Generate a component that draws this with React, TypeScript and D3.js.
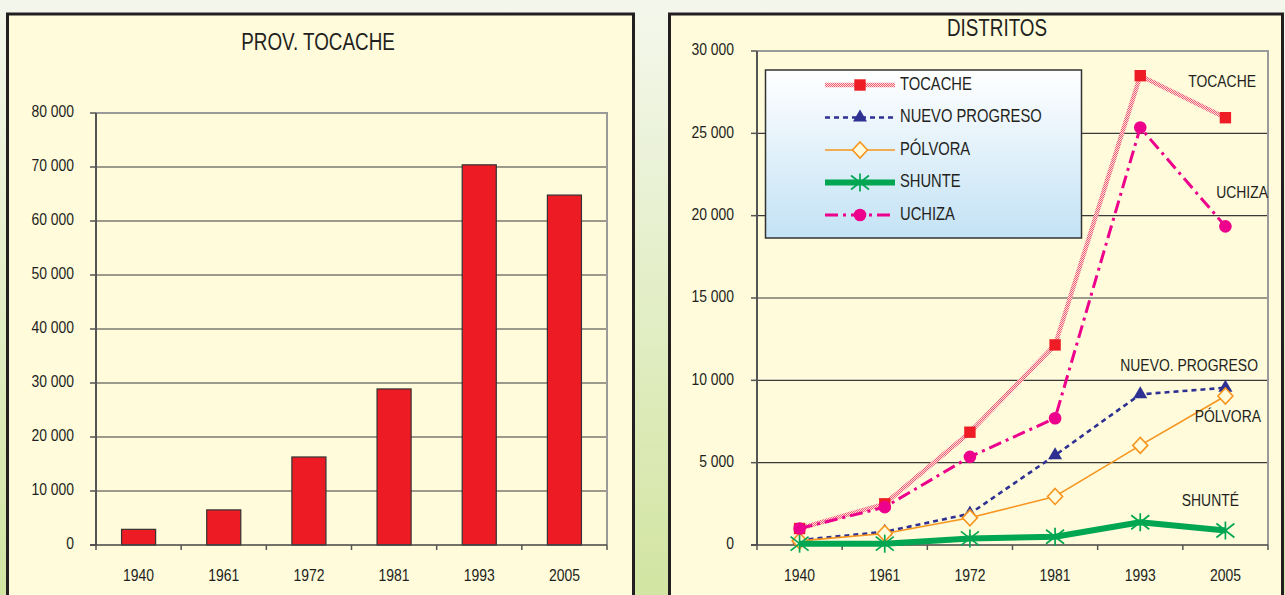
import React from 'react';
import * as d3 from 'd3';

// census years and population figures
const years = ['1940', '1961', '1972', '1981', '1993', '2005'];
const provTocache = [2900, 6500, 16300, 28900, 70400, 64800];
const tocache = [1000, 2500, 6850, 12150, 28500, 25950];
const nuevoProgreso = [300, 800, 1900, 5450, 9150, 9550];
const polvora = [250, 700, 1650, 2950, 6050, 9050];
const shunte = [80, 80, 400, 500, 1380, 880];
const uchiza = [1000, 2300, 5350, 7700, 25350, 19350];
const leftTicks = [0, 10000, 20000, 30000, 40000, 50000, 60000, 70000, 80000];
const rightTicks = [0, 5000, 10000, 15000, 20000, 25000, 30000];

const FONT = "'Liberation Sans', Arial, sans-serif";
const INK = '#231F20';
const PANEL = '#FFFBDB';
const NARROW = 0.82;

const fmt = (v: number) => d3.format(',')(v).replace(/,/g, ' ');

// condensed text: no narrow font installed, so squeeze horizontally
const T = ({ x, y, size, anchor = 'start', children }: { x: number; y: number; size: number; anchor?: string; children: React.ReactNode }) => (
  <text transform={`translate(${x},${y}) scale(${NARROW},1)`} textAnchor={anchor} dominantBaseline="middle"
    fontSize={size} fill={INK}>{children}</text>
);

type Series = { name: string; label: string; values: number[]; color: string; width: number; dash?: string; stroke?: string; marker: string };

const series: Series[] = [
  { name: 'TOCACHE', label: 'TOCACHE', values: tocache, color: '#EE1C25', stroke: 'url(#hatch)', width: 4.5, marker: 'square' },
  { name: 'NUEVO PROGRESO', label: 'NUEVO. PROGRESO', values: nuevoProgreso, color: '#2E3192', width: 2.6, dash: '5 4', marker: 'triangle' },
  { name: 'PÓLVORA', label: 'PÓLVORA', values: polvora, color: '#F7941D', width: 1.6, marker: 'diamond' },
  { name: 'SHUNTE', label: 'SHUNTÉ', values: shunte, color: '#00A651', width: 6, marker: 'star' },
  { name: 'UCHIZA', label: 'UCHIZA', values: uchiza, color: '#EC008C', width: 3, dash: '13 5 3 5', marker: 'circle' },
];

const Marker = ({ kind, color, x, y }: { kind: string; color: string; x: number; y: number }) => {
  const t = `translate(${x},${y})`;
  if (kind === 'square') return <path transform={t} d={d3.symbol(d3.symbolSquare, 130)()!} fill={color} />;
  if (kind === 'triangle') return <path transform={t} d={d3.symbol(d3.symbolTriangle, 85)()!} fill={color} />;
  if (kind === 'circle') return <circle cx={x} cy={y} r={6.3} fill={color} />;
  if (kind === 'diamond')
    return <path transform={t} d="M0,-8L7.5,0L0,8L-7.5,0Z" fill={PANEL} stroke={color} strokeWidth={1.6} />;
  return (
    <g transform={t} stroke={color} strokeWidth={1.7}>
      <line x1={0} y1={-9} x2={0} y2={9} />
      <line x1={-9} y1={-7} x2={9} y2={7} />
      <line x1={-9} y1={7} x2={9} y2={-7} />
    </g>
  );
};

export default function App() {
  const W = 1285, H = 595;
  const baseY = 545;

  // left bar chart
  const xL = d3.scaleBand().domain(years).range([96, 607]).paddingInner(0.6).paddingOuter(0.3);
  const xLt = d3.scaleBand().domain(years).range([96, 607]);
  const yL = d3.scaleLinear().domain([0, 80000]).range([baseY, 113]);

  // right line chart
  const xR = d3.scalePoint().domain(years).range([757, 1268]).padding(0.5);
  const xRt = d3.scaleBand().domain(years).range([757, 1268]);
  const yR = d3.scaleLinear().domain([0, 30000]).range([baseY, 51]);
  const line = d3.line<number>().x((_, i) => xR(years[i])!).y((d) => yR(d));

  const labelPos: Record<string, [number, number]> = {
    TOCACHE: [1256, 83],
    'NUEVO PROGRESO': [1258, 367],
    PÓLVORA: [1261, 418],
    SHUNTE: [1239, 502],
    UCHIZA: [1268, 194],
  };

  const xTickBounds = (sc: d3.ScaleBand<string>) => [...years.map((y) => sc(y)!), sc.range()[1]];

  return (
    <div>
      <style>{'body{margin:0}'}</style>
      <svg width={W} height={H} style={{ display: 'block', fontFamily: FONT }}>
        <defs>
          <linearGradient id="bg" x1="0" y1="0" x2="0" y2="1">
            <stop offset="0" stopColor="#F4F7EC" />
            <stop offset="1" stopColor="#D2E5A2" />
          </linearGradient>
          <linearGradient id="leg" x1="0" y1="0" x2="0" y2="1">
            <stop offset="0" stopColor="#FFFFFF" />
            <stop offset="1" stopColor="#C3E2F5" />
          </linearGradient>
          <pattern id="hatch" width="2" height="2" patternUnits="userSpaceOnUse">
            <rect width="2" height="2" fill="#FCDCE0" />
            <rect width="1" height="1" fill="#F0606E" />
            <rect x="1" y="1" width="1" height="1" fill="#F0606E" />
          </pattern>
        </defs>
        <rect width={W} height={H} fill="url(#bg)" />

        {/* left panel */}
        <rect x={7.5} y={14} width={626} height={H + 10} fill={PANEL} stroke={INK} strokeWidth={3} />
        <T x={318} y={44} size={23} anchor="middle">PROV. TOCACHE</T>
        {leftTicks.map((t) => (
          <g key={t}>
            {t > 0 && t < 80000 && <line x1={96} x2={607} y1={yL(t)} y2={yL(t)} stroke="#3a3a3a" strokeWidth={1.2} />}
            <line x1={90} x2={96} y1={yL(t)} y2={yL(t)} stroke="#555" strokeWidth={1.5} />
            <T x={74} y={yL(t)} size={17} anchor="end">{fmt(t)}</T>
          </g>
        ))}
        <path d={`M96,${yL(80000)}H607V${baseY}`} fill="none" stroke="#9a9a9a" strokeWidth={2} />
        {provTocache.map((v, i) => (
          <rect key={years[i]} x={xL(years[i])} y={yL(v)} width={xL.bandwidth()} height={baseY - yL(v)}
            fill="#ED1C24" stroke="#333" strokeWidth={1.2} />
        ))}
        <line x1={96} x2={96} y1={yL(80000)} y2={baseY} stroke="#555" strokeWidth={2} />
        <line x1={90} x2={607} y1={baseY} y2={baseY} stroke="#444" strokeWidth={1.5} />
        {xTickBounds(xLt).map((x, i) => (
          <line key={i} x1={x} x2={x} y1={baseY} y2={baseY + 5} stroke="#555" strokeWidth={1.5} />
        ))}
        {years.map((y) => (
          <T key={y} x={xLt(y)! + xLt.bandwidth() / 2} y={577} size={17} anchor="middle">{y}</T>
        ))}

        {/* right panel */}
        <rect x={669.5} y={14} width={613} height={H + 10} fill={PANEL} stroke={INK} strokeWidth={3} />
        <T x={997} y={30} size={23} anchor="middle">DISTRITOS</T>
        {rightTicks.map((t) => (
          <g key={t}>
            {t > 0 && t < 30000 && <line x1={757} x2={1268} y1={yR(t)} y2={yR(t)} stroke="#3a3a3a" strokeWidth={1.2} />}
            <line x1={751} x2={757} y1={yR(t)} y2={yR(t)} stroke="#555" strokeWidth={1.5} />
            <T x={734} y={yR(t)} size={17} anchor="end">{fmt(t)}</T>
          </g>
        ))}
        <path d={`M757,${yR(30000)}H1268V${baseY}`} fill="none" stroke="#9a9a9a" strokeWidth={2} />
        <line x1={757} x2={757} y1={yR(30000)} y2={baseY} stroke="#555" strokeWidth={2} />
        <line x1={751} x2={1268} y1={baseY} y2={baseY} stroke="#444" strokeWidth={1.5} />
        {xTickBounds(xRt).map((x, i) => (
          <line key={i} x1={x} x2={x} y1={baseY} y2={baseY + 5} stroke="#555" strokeWidth={1.5} />
        ))}
        {years.map((y) => (
          <T key={y} x={xR(y)!} y={577} size={17} anchor="middle">{y}</T>
        ))}

        {/* legend */}
        <rect x={765.5} y={70} width={316} height={168} fill="url(#leg)" stroke="#333" strokeWidth={1.5} />
        {series.map((s, i) => {
          const ly = 85 + i * 32.5;
          return (
            <g key={s.name}>
              <line x1={825} x2={895} y1={ly} y2={ly} stroke={s.stroke || s.color} strokeWidth={s.width}
                strokeDasharray={s.dash} />
              <Marker kind={s.marker} color={s.color} x={860} y={ly} />
              <T x={900} y={ly} size={18}>{s.name}</T>
            </g>
          );
        })}

        {/* series */}
        {series.map((s) => (
          <g key={s.name}>
            <path d={line(s.values)!} fill="none" stroke={s.stroke || s.color} strokeWidth={s.width}
              strokeDasharray={s.dash} strokeLinejoin="round" />
            {s.values.map((v, i) => (
              <Marker key={i} kind={s.marker} color={s.color} x={xR(years[i])!} y={yR(v)} />
            ))}
          </g>
        ))}
        {series.map((s) => (
          <T key={s.name} x={labelPos[s.name][0]} y={labelPos[s.name][1]} size={17} anchor="end">{s.label}</T>
        ))}
      </svg>
    </div>
  );
}
